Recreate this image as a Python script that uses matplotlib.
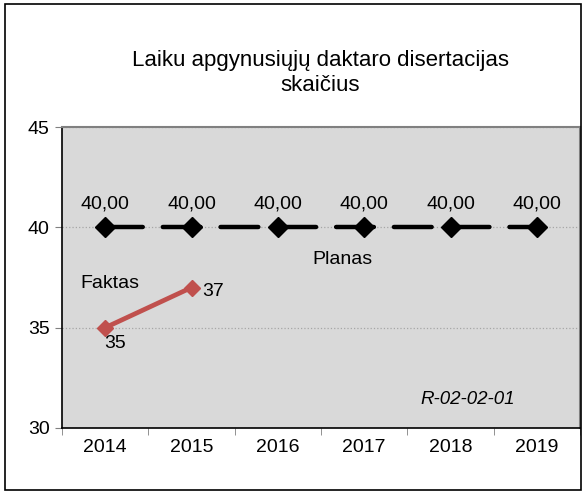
import matplotlib.pyplot as plt
from matplotlib.patches import Rectangle

# data
years = ["2014", "2015", "2016", "2017", "2018", "2019"]
planas = [40, 40, 40, 40, 40, 40]
faktas = [35, 37]

plt.rcParams['font.family'] = ['Liberation Sans', 'DejaVu Sans']

fig = plt.figure(figsize=(5.86, 4.93), dpi=100)
fig.patches.append(Rectangle((5 / 586, 3 / 493), 576 / 586, 486 / 493, transform=fig.transFigure,
                             fill=False, edgecolor='black', linewidth=1.2))

ax = fig.add_axes([62 / 586, 65 / 493, 518 / 586, 301 / 493])
ax.set_facecolor('#D9D9D9')

x = list(range(len(years)))
ax.plot(x, planas, color='black', linewidth=3.2, dashes=(8.5, 4.5), marker='D', markersize=10,
        dash_capstyle='round', zorder=3)
ax.plot(x[:len(faktas)], faktas, color='#C0504D', linewidth=3.4, marker='D', markersize=8, zorder=3)

for xi, v in zip(x, planas):
    ax.annotate(f"{v:.2f}".replace('.', ','), (xi, v), xytext=(0, 11), textcoords='offset points',
                ha='center', va='bottom', fontsize=14)

ax.annotate(str(faktas[0]), (x[0], faktas[0]), xytext=(7, -5), textcoords='offset points',
            ha='center', va='top', fontsize=14)
ax.annotate(str(faktas[1]), (x[1], faktas[1]), xytext=(8, -3), textcoords='offset points',
            ha='left', va='center', fontsize=14)
ax.text(x[0] + 0.06, 37.2, "Faktas", ha='center', va='center', fontsize=14)
ax.text(2.75, 38.4, "Planas", ha='center', va='center', fontsize=14)
ax.text(4.2, 31.4, "R-02-02-01", ha='center', va='center', fontsize=13.5, style='italic')

ax.set_xlim(-0.5, len(years) - 0.5)
ax.set_ylim(30, 45)
ax.set_yticks([30, 35, 40, 45])
ax.set_xticks(x)
ax.set_xticklabels(years)
ax.set_xticks([i + 0.5 for i in range(-1, len(years))], minor=True)
ax.tick_params(axis='x', which='major', length=0, labelsize=14, pad=8)
ax.tick_params(axis='x', which='minor', length=5, color='#808080')
ax.tick_params(axis='y', labelsize=14, length=5, color='#808080', pad=4)
ax.grid(axis='y', color='#A6A6A6', linestyle=':', linewidth=0.9)
ax.set_axisbelow(True)
for side in ['top', 'right']:
    ax.spines[side].set_color('#808080')
    ax.spines[side].set_linewidth(1.5)
for side in ['left', 'bottom']:
    ax.spines[side].set_color('black')
    ax.spines[side].set_linewidth(1.2)

fig.text(320 / 586, 1 - 73 / 493, "Laiku apgynusiųjų daktaro disertacijas\nskaičius",
         ha='center', va='center', fontsize=16, linespacing=1.2)

fig.savefig("out.png", dpi=100)
